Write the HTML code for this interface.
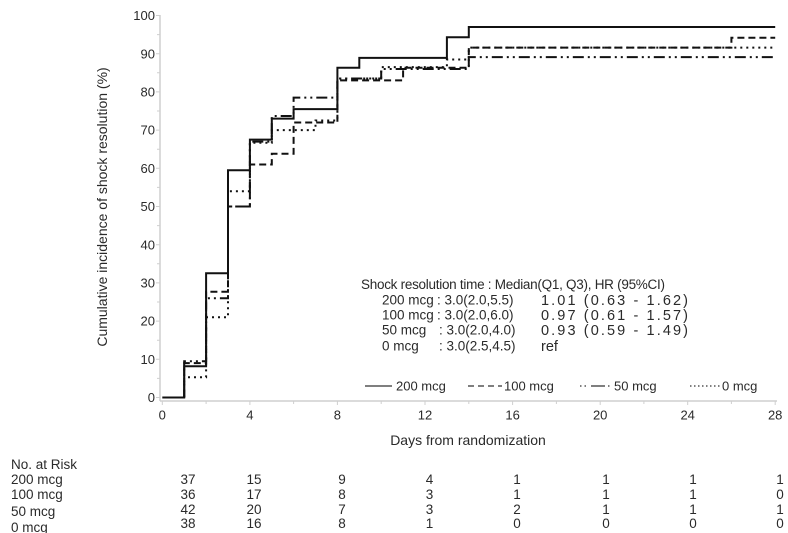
<!DOCTYPE html>
<html><head><meta charset="utf-8"><style>
html,body{margin:0;padding:0;background:#fff;}
svg{display:block;}
text{font-family:"Liberation Sans",sans-serif;fill:#2a2a2a;}
</style></head><body>
<svg width="788" height="533" viewBox="0 0 788 533" xmlns="http://www.w3.org/2000/svg">
<rect width="788" height="533" fill="#fff"/>
<!-- axes -->
<g stroke="#cfcfcf" stroke-width="1.5" fill="none">
<line x1="160" y1="15" x2="160" y2="401"/>
<line x1="160" y1="401" x2="777" y2="401"/>
</g>
<g stroke="#cfcfcf" stroke-width="1">
<path d="M156,15.5H160M157,34.6H160M156,53.7H160M157,72.8H160M156,91.9H160M157,111H160M156,130.1H160M157,149.2H160M156,168.3H160M157,187.4H160M156,206.5H160M157,225.6H160M156,244.7H160M157,263.8H160M156,282.9H160M157,302H160M156,321.1H160M157,340.2H160M156,359.3H160M157,378.4H160M156,397.5H160"/>
<path d="M162.3,401V405M206.1,401V404M249.9,401V405M293.6,401V404M337.4,401V405M381.2,401V404M425,401V405M468.8,401V404M512.6,401V405M556.4,401V404M600.2,401V405M643.9,401V404M687.7,401V405M731.4,401V404M775.2,401V405"/>
</g>
<!-- y tick labels -->
<g font-size="13" text-anchor="end">
<text x="155" y="402.1">0</text>
<text x="155" y="363.9">10</text>
<text x="155" y="325.7">20</text>
<text x="155" y="287.5">30</text>
<text x="155" y="249.3">40</text>
<text x="155" y="211.1">50</text>
<text x="155" y="172.9">60</text>
<text x="155" y="134.7">70</text>
<text x="155" y="96.5">80</text>
<text x="155" y="58.3">90</text>
<text x="155" y="20.1">100</text>
</g>
<!-- x tick labels -->
<g font-size="13" text-anchor="middle">
<text x="162.3" y="419.6">0</text>
<text x="249.9" y="419.6">4</text>
<text x="337.4" y="419.6">8</text>
<text x="425" y="419.6">12</text>
<text x="512.6" y="419.6">16</text>
<text x="600.2" y="419.6">20</text>
<text x="687.7" y="419.6">24</text>
<text x="775.2" y="419.6">28</text>
</g>
<text x="468" y="445" font-size="14" text-anchor="middle">Days from randomization</text>
<text transform="translate(107,207) rotate(-90)" font-size="14" text-anchor="middle">Cumulative incidence of shock resolution (%)</text>

<!-- curves -->
<g fill="none" stroke="#111" stroke-width="2">
<path d="M184.2,397.5V361.2H206.1V298.2H228V206.5H249.9V141.6H271.8V116H293.6V97.6H337.4V78.5H381.2V69H468.8V57.1H775.2" stroke-dasharray="11 4 2 4 2 4"/>
<path d="M184.2,397.5V377.3H206.1V317.3H228V191.2H249.9V142.7H271.8V130.1H315.5V120.5H337.4V78.5H381.2V67.1H446.9V59.5H468.8V47.6H775.2" stroke-dasharray="2 4"/>
<path d="M184.2,397.5V363.1H206.1V291.7H228V206.5H249.9V164.5H271.8V153.8H293.6V122.5H337.4V80.4H403.1V67.8H468.8V47.6H731.4V37.7H775.2" stroke-dasharray="7 4"/>
<path d="M162.3,397.5H184.2V366.2H206.1V273.3H228V170.2H249.9V139.6H271.8V118.6H293.6V109.1H337.4V67.8H359.3V57.9H446.9V37.3H468.8V27H775.2"/>
</g>

<!-- annotation -->
<g font-size="13.5">
<text x="361" y="289" textLength="304" lengthAdjust="spacing">Shock resolution time : Median(Q1, Q3),  HR (95%CI)</text>
<text x="382" y="304.6">200 mcg</text><text x="437" y="304.6">: 3.0(2.0,5.5)</text>
<text x="382" y="319.6">100 mcg</text><text x="437" y="319.6">: 3.0(2.0,6.0)</text>
<text x="382" y="334.6">50 mcg</text><text x="439" y="334.6">: 3.0(2.0,4.0)</text>
<text x="382" y="350.6">0 mcg</text><text x="439" y="350.6">: 3.0(2.5,4.5)</text>
</g>
<g font-size="14.5">
<text x="541" y="304.8" textLength="147" lengthAdjust="spacing">1.01 (0.63 - 1.62)</text>
<text x="541" y="319.8" textLength="147" lengthAdjust="spacing">0.97 (0.61 - 1.57)</text>
<text x="541" y="334.8" textLength="147" lengthAdjust="spacing">0.93 (0.59 - 1.49)</text>
<text x="541" y="350.8">ref</text>
</g>

<!-- legend -->
<g fill="none" stroke="#333" stroke-width="1.2">
<line x1="365" y1="386" x2="392" y2="386"/>
<line x1="468" y1="386" x2="502" y2="386" stroke-dasharray="6 4"/>
<line x1="580" y1="386" x2="612" y2="386" stroke-dasharray="1.5 3 1.5 5 14 3"/>
<line x1="690" y1="386" x2="720" y2="386" stroke-dasharray="1.5 2.5"/>
</g>
<g font-size="13">
<text x="396" y="390.6">200 mcg</text>
<text x="504" y="390.6">100 mcg</text>
<text x="614" y="390.6">50 mcg</text>
<text x="722" y="390.6">0 mcg</text>
</g>

<!-- risk table -->
<g font-size="13.5">
<text x="11" y="468.8">No. at Risk</text>
<text x="11" y="483.8">200 mcg</text>
<text x="11" y="498.8">100 mcg</text>
<text x="11" y="515.8">50 mcg</text>
<text x="11" y="531.8">0 mcg</text>
</g>
<g font-size="13.5" text-anchor="middle">
<text x="188" y="483.8">37</text><text x="254" y="483.8">15</text><text x="342" y="483.8">9</text><text x="429.5" y="483.8">4</text><text x="517" y="483.8">1</text><text x="606" y="483.8">1</text><text x="693" y="483.8">1</text><text x="780" y="483.8">1</text>
<text x="188" y="498.8">36</text><text x="254" y="498.8">17</text><text x="342" y="498.8">8</text><text x="429.5" y="498.8">3</text><text x="517" y="498.8">1</text><text x="606" y="498.8">1</text><text x="693" y="498.8">1</text><text x="780" y="498.8">0</text>
<text x="188" y="513.8">42</text><text x="254" y="513.8">20</text><text x="342" y="513.8">7</text><text x="429.5" y="513.8">3</text><text x="517" y="513.8">2</text><text x="606" y="513.8">1</text><text x="693" y="513.8">1</text><text x="780" y="513.8">1</text>
<text x="188" y="527.8">38</text><text x="254" y="527.8">16</text><text x="342" y="527.8">8</text><text x="429.5" y="527.8">1</text><text x="517" y="527.8">0</text><text x="606" y="527.8">0</text><text x="693" y="527.8">0</text><text x="780" y="527.8">0</text>
</g>
</svg>
</body></html>
